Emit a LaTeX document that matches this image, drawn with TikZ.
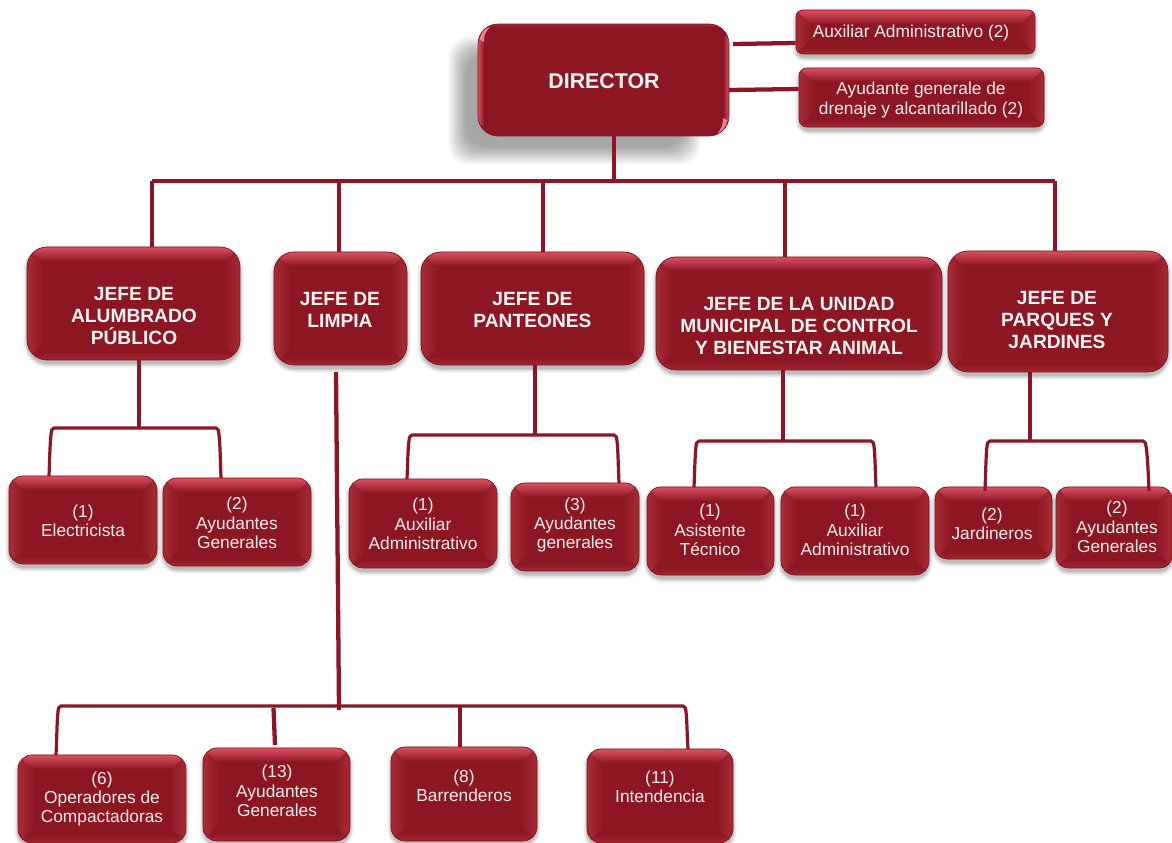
\documentclass[tikz,border=0pt]{standalone}
\usepackage{fontspec}
\setmainfont{Liberation Sans}
\usetikzlibrary{calc}
\definecolor{rojo}{HTML}{8C1722}
\definecolor{rojot}{HTML}{DB5062}
\definecolor{rojos}{HTML}{A82C38}
\definecolor{rojob}{HTML}{A32833}
\definecolor{linea}{HTML}{8A1626}
\definecolor{borde}{HTML}{7E1420}
\tikzset{
  x=0.75pt,y=-0.75pt,
  conn/.style={draw=linea,line width=3.2pt,line join=round},
  brack/.style={draw=linea,line width=2.4pt,line join=round,rounded corners=1.5pt},
  txt/.style={text=white!92!rojo,align=center,font=\fontsize{13}{14.5}\selectfont,inner sep=0pt},
  boss/.style={text=white!95!rojo,align=center,font=\bfseries\fontsize{14.4}{16.6}\selectfont,inner sep=0pt},
}
% \caja{name}{x0}{y0}{x1}{y1}{radius}
\newcommand{\caja}[6]{%
  \foreach \k/\o in {5/.03,4/.04,3/.05,2/.07,1/.09}{%
    \fill[black,opacity=\o,rounded corners=#6*0.75pt+\k*0.75pt]
      (#2-\k+1,#3+3-\k) rectangle (#4+\k-1,#5+3+\k);}
  \begin{scope}
    \clip[rounded corners=#6*0.75pt] (#2,#3) rectangle (#4,#5);
    \fill[rojo] (#2,#3) rectangle (#4,#5);
    \path[left color=rojos,right color=rojo] (#2,#3) -- (#2+16,#3+16) -- (#2+16,#5-16) -- (#2,#5) -- cycle;
    \path[left color=rojo,right color=rojos] (#4,#3) -- (#4-16,#3+16) -- (#4-16,#5-16) -- (#4,#5) -- cycle;
    \path[top color=rojot,bottom color=rojo] (#2,#3) -- (#4,#3) -- (#4-14,#3+14) -- (#2+14,#3+14) -- cycle;
    \path[top color=rojo,bottom color=rojob] (#2,#5) -- (#4,#5) -- (#4-8,#5-8) -- (#2+8,#5-8) -- cycle;
  \end{scope}
  \node[draw=borde,line width=0.5pt,rounded corners=#6*0.75pt,minimum width={(#4-#2)*0.75pt},minimum height={(#5-#3)*0.75pt},inner sep=0pt] (#1) at ({(#2+#4)/2},{(#3+#5)/2}) {};
}
% \letrero{name}{cx}{cy}{style}{text}
\newcommand{\letrero}[5]{\node[#4] (#1) at (#2,#3) {#5};}
\begin{document}
\begin{tikzpicture}
\useasboundingbox (0,0) rectangle (1172,843);
\fill[white] (0,0) rectangle (1172,843);
% Director shadow
\foreach \k in {0,...,23}{
  \fill[black,opacity=.015,rounded corners=15pt] (448+\k*0.8,36+\k*0.8) rectangle (701-\k*0.8,165-\k*0.8);
}
% Director box
\begin{scope}
  \clip[rounded corners=15pt] (478,24) rectangle (729,136);
  \fill[rojo] (478,24) rectangle (729,136);
  \path[left color=rojot,right color=rojo] (478,36) rectangle (484,124);
  \path[left color=rojo,right color=rojot] (723,36) rectangle (729,124);
  \path[top color=rojos,bottom color=rojo] (490,24) rectangle (717,27);
  \fill[rojot!70!white] (480,40) .. controls (480,32) and (485,28) .. (490,27) .. controls (485,32) and (484,36) .. (484,42) -- cycle;
  \fill[rojot!70!white] (727,120) .. controls (727,127) and (722,132) .. (717,134) .. controls (721,129) and (723,126) .. (723,118) -- cycle;
\end{scope}
\node[draw=borde,line width=0.5pt,rounded corners=15pt,minimum width=188.25pt,minimum height=84pt,inner sep=0pt] (dir) at (603.5,80) {};
\letrero{dirt}{604}{81}{boss,font=\bfseries\fontsize{16}{18}\selectfont}{DIRECTOR}
% Boxes
\caja{aux}{796}{10}{1035}{54}{7}
\letrero{auxt}{911}{33}{txt}{Auxiliar Administrativo (2)}
\caja{ayu}{799}{68}{1044}{127}{8}
\letrero{ayut}{921}{100}{txt}{Ayudante generale de\\drenaje y alcantarillado (2)}
\caja{alu}{27}{247}{240}{360}{20}
\letrero{alut}{134}{316}{boss}{JEFE DE\\ALUMBRADO\\PÚBLICO}
\caja{lim}{274}{252}{407}{365}{20}
\letrero{limt}{340}{310}{boss}{JEFE DE\\LIMPIA}
\caja{pan}{421}{252}{644}{365}{20}
\letrero{pant}{532.5}{310}{boss}{JEFE DE\\PANTEONES}
\caja{uni}{656}{257}{942}{370}{20}
\letrero{unit}{799}{326}{boss}{JEFE DE LA UNIDAD\\MUNICIPAL DE CONTROL\\Y BIENESTAR ANIMAL}
\caja{par}{948}{251}{1168}{372}{20}
\letrero{part}{1057}{320}{boss}{JEFE DE\\PARQUES Y\\JARDINES}
\caja{ele}{9}{476}{157}{564}{14}
\letrero{elet}{83}{521}{txt}{(1)\\Electricista}
\caja{ayg}{163}{478}{311}{566}{14}
\letrero{aygt}{237}{523}{txt}{(2)\\Ayudantes\\Generales}
\caja{auxp}{349}{479}{497}{568}{14}
\letrero{auxpt}{423}{524}{txt}{(1)\\Auxiliar\\Administrativo}
\caja{ayp}{511}{483}{639}{571}{14}
\letrero{aypt}{575}{525}{txt}{(3)\\Ayudantes\\generales}
\caja{asi}{647}{487}{774}{575}{14}
\letrero{asit}{710}{530}{txt}{(1)\\Asistente\\Técnico}
\caja{auxu}{781}{487}{929}{575}{14}
\letrero{auxut}{855}{530}{txt}{(1)\\Auxiliar\\Administrativo}
\caja{jar}{935}{487}{1052}{559}{12}
\letrero{jart}{992}{524}{txt}{(2)\\Jardineros}
\caja{ayj}{1056}{487}{1172}{568}{12}
\letrero{ayjt}{1117}{527}{txt}{(2)\\Ayudantes\\Generales}
\caja{ope}{18}{755}{186}{843}{14}
\letrero{opet}{102}{799}{txt}{(6)\\Operadores de\\Compactadoras}
\caja{ayl}{203}{748}{350}{841}{14}
\letrero{aylt}{277}{791}{txt}{(13)\\Ayudantes\\Generales}
\caja{bar}{391}{747}{537}{841}{14}
\letrero{bart}{464}{786}{txt}{(8)\\Barrenderos}
\caja{int}{587}{749}{733}{843}{14}
\letrero{intt}{660}{787}{txt}{(11)\\Intendencia}
% Junctions
\coordinate (bus) at (614,181);
\coordinate (busL) at (152,181);
\coordinate (busR) at (1055,181);
\coordinate (b1) at (339,181);
\coordinate (b2) at (543,181);
\coordinate (b3) at (785,181);
\coordinate (p1) at (139,428);
\coordinate (p2) at (535,435);
\coordinate (p3) at (783,441);
\coordinate (p4) at (1030,441);
\coordinate (p5) at (339,710);
\coordinate (p6) at (273.5,708);
\coordinate (p6b) at (275,745);
\coordinate (p7) at (460,706);
\coordinate (a1) at (733,44);
\coordinate (a2) at (729,90);
\coordinate (l0) at (336,372);
% Connectors
\draw[conn] (bus |- dir.south) -- (bus);
\draw[conn] (busL) -- (busR);
\draw[conn] (busL) -- (busL |- alu.north);
\draw[conn] (b1) -- (b1 |- lim.north);
\draw[conn] (b2) -- (b2 |- pan.north);
\draw[conn] (b3) -- (b3 |- uni.north);
\draw[conn] (busR) -- (busR |- par.north);
\draw[conn] (a1) -- (aux.west |- 0,43);
\draw[conn] (a2) -- (ayu.west |- 0,89);
\draw[conn] (p1 |- alu.south) -- (p1);
\draw[brack] (49,476) .. controls (50,450) and (50,440) .. (52,428) -- (218,428) .. controls (220,440) and (220,450) .. (221,478);
\draw[conn] (p2 |- pan.south) -- (p2);
\draw[brack] (407,479) .. controls (408,455) and (408,445) .. (410,435) -- (616,435) .. controls (618,445) and (618,460) .. (619,483);
\draw[conn] (p3 |- uni.south) -- (p3);
\draw[brack] (694,487) .. controls (695,465) and (695,450) .. (697,441) -- (873,441) .. controls (875,450) and (875,465) .. (876,487);
\draw[conn] (p4 |- par.south) -- (p4);
\draw[brack] (985,491) .. controls (986,465) and (986,450) .. (988,441) -- (1145,441) .. controls (1147,450) and (1148,465) .. (1149,491);
\draw[conn] (l0) -- (p5);
\draw[brack] (56,755) .. controls (57,735) and (57,715) .. (59,706) -- (685,706) .. controls (687,715) and (687,735) .. (688,749);
\draw[conn] (p6) -- (p6b);
\draw[conn] (p7) -- (p7 |- bar.north);
\end{tikzpicture}
\end{document}
